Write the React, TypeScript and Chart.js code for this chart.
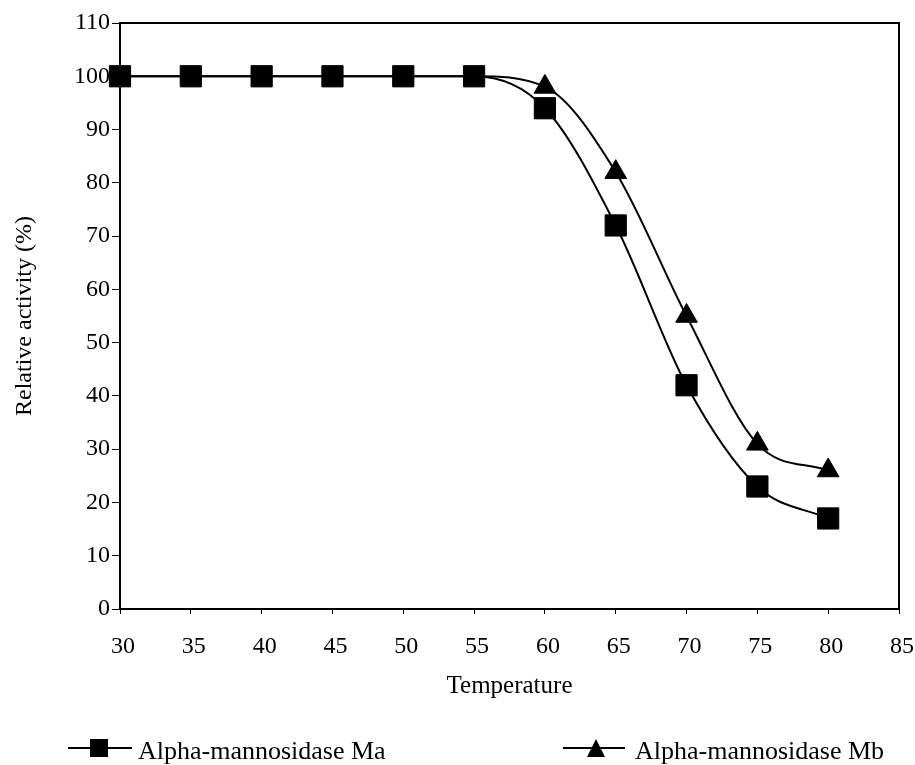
import React, { useEffect, useRef } from 'react';
import { Chart, registerables } from 'chart.js';

Chart.register(...registerables);

// ---- data ----
const temperatures = [30, 35, 40, 45, 50, 55, 60, 65, 70, 75, 80];
const activityMa = [100, 100, 100, 100, 100, 100, 94, 72, 42, 23, 17];
const activityMb = [100, 100, 100, 100, 100, 100, 98, 82, 55, 31, 26];
const seriesLabels = ['Alpha-mannosidase Ma', 'Alpha-mannosidase Mb'];
const seriesMarkers = ['rect', 'triangle'];
const xTitle = 'Temperature';
const yTitle = 'Relative activity (%)';
const xRange = [30, 85];
const yRange = [0, 110];

const FONT = '"Liberation Serif", "Times New Roman", Times, serif';
const W = 915;
const H = 765;

const framePlugin = {
  id: 'frame',
  beforeDatasetsDraw(chart: any) {
    const { ctx, chartArea } = chart;
    ctx.save();
    ctx.strokeStyle = '#000';
    ctx.lineWidth = 2;
    ctx.beginPath();
    ctx.moveTo(chartArea.left, chartArea.top);
    ctx.lineTo(chartArea.right, chartArea.top);
    ctx.lineTo(chartArea.right, chartArea.bottom);
    ctx.stroke();
    ctx.restore();
  },
};

function drawMarker(ctx: CanvasRenderingContext2D, kind: string, x: number, y: number, size: number) {
  ctx.beginPath();
  if (kind === 'rect') {
    ctx.rect(x - size / 2, y - size / 2, size, size);
  } else {
    ctx.moveTo(x, y - size / 2);
    ctx.lineTo(x + size / 2, y + size / 2);
    ctx.lineTo(x - size / 2, y + size / 2);
    ctx.closePath();
  }
  ctx.fill();
}

const legendPlugin = {
  id: 'bottomLegend',
  afterDraw(chart: any) {
    const { ctx } = chart;
    const entries = [
      { x0: 68, x1: 132, mx: 99, tx: 138 },
      { x0: 563, x1: 625, mx: 596, tx: 635 },
    ];
    const cy = 748;
    ctx.save();
    ctx.fillStyle = '#000';
    ctx.strokeStyle = '#000';
    ctx.lineWidth = 2;
    ctx.font = `26px ${FONT}`;
    ctx.textBaseline = 'alphabetic';
    ctx.textAlign = 'left';
    seriesLabels.forEach((label, i) => {
      const e = entries[i];
      ctx.beginPath();
      ctx.moveTo(e.x0, cy);
      ctx.lineTo(e.x1, cy);
      ctx.stroke();
      drawMarker(ctx, seriesMarkers[i], e.mx, cy, 18);
      ctx.fillText(label, e.tx, 759);
    });
    ctx.restore();
  },
};

export default function App() {
  const ref = useRef<HTMLCanvasElement | null>(null);

  useEffect(() => {
    if (!ref.current) return;
    const chart = new Chart(ref.current, {
      type: 'line',
      data: {
        datasets: [
          {
            label: seriesLabels[0],
            data: temperatures.map((t, i) => ({ x: t, y: activityMa[i] })),
            borderColor: '#000',
            backgroundColor: '#000',
            borderWidth: 2,
            pointStyle: 'rect',
            pointRadius: 15,
            pointBorderWidth: 1,
            pointBackgroundColor: '#000',
            pointBorderColor: '#000',
            cubicInterpolationMode: 'monotone',
            clip: false as any,
          },
          {
            label: seriesLabels[1],
            data: temperatures.map((t, i) => ({ x: t, y: activityMb[i] })),
            borderColor: '#000',
            backgroundColor: '#000',
            borderWidth: 2,
            pointStyle: 'triangle',
            // markers that coincide with (and sit under) the Ma squares are hidden
            pointRadius: (c: any) => (activityMb[c.dataIndex] === activityMa[c.dataIndex] ? 0 : 12.5),
            pointBorderWidth: 1,
            pointBackgroundColor: '#000',
            pointBorderColor: '#000',
            cubicInterpolationMode: 'monotone',
            clip: false as any,
          },
        ],
      },
      options: {
        responsive: false,
        animation: false,
        layout: { padding: { top: 23, right: 13, bottom: 0, left: 0 } },
        plugins: {
          legend: { display: false },
          tooltip: { enabled: false },
        },
        scales: {
          x: {
            type: 'linear',
            min: xRange[0],
            max: xRange[1],
            afterFit: (s: any) => {
              s.height = 156;
              s.paddingLeft = 0;
              s.paddingRight = 0;
            },
            ticks: {
              stepSize: 5,
              color: '#000',
              font: { family: FONT, size: 24 },
              padding: 18,
              labelOffset: 3,
              maxRotation: 0,
              autoSkip: false,
            },
            grid: { drawOnChartArea: false, drawTicks: true, tickLength: 5, color: '#000', lineWidth: 1 },
            border: { display: true, color: '#000', width: 2 },
            title: {
              display: true,
              text: xTitle,
              color: '#000',
              font: { family: FONT, size: 25 },
              padding: { top: 0, bottom: 64 },
            },
          },
          y: {
            type: 'linear',
            min: yRange[0],
            max: yRange[1],
            afterFit: (s: any) => {
              s.width = 120;
              s.paddingTop = 0;
              s.paddingBottom = 0;
            },
            ticks: {
              stepSize: 10,
              color: '#000',
              font: { family: FONT, size: 24 },
              padding: 2,
            },
            grid: { drawOnChartArea: false, drawTicks: true, tickLength: 8, color: '#000', lineWidth: 1 },
            border: { display: true, color: '#000', width: 2 },
            title: {
              display: true,
              text: yTitle,
              color: '#000',
              font: { family: FONT, size: 24 },
              padding: { top: 10, bottom: 0 },
            },
          },
        },
      },
      plugins: [framePlugin, legendPlugin],
    });
    return () => chart.destroy();
  }, []);

  return (
    <div style={{ position: 'fixed', left: 0, top: 0, width: W, height: H, background: '#fff' }}>
      <canvas ref={ref} width={W} height={H} style={{ display: 'block', width: W, height: H }} />
    </div>
  );
}
